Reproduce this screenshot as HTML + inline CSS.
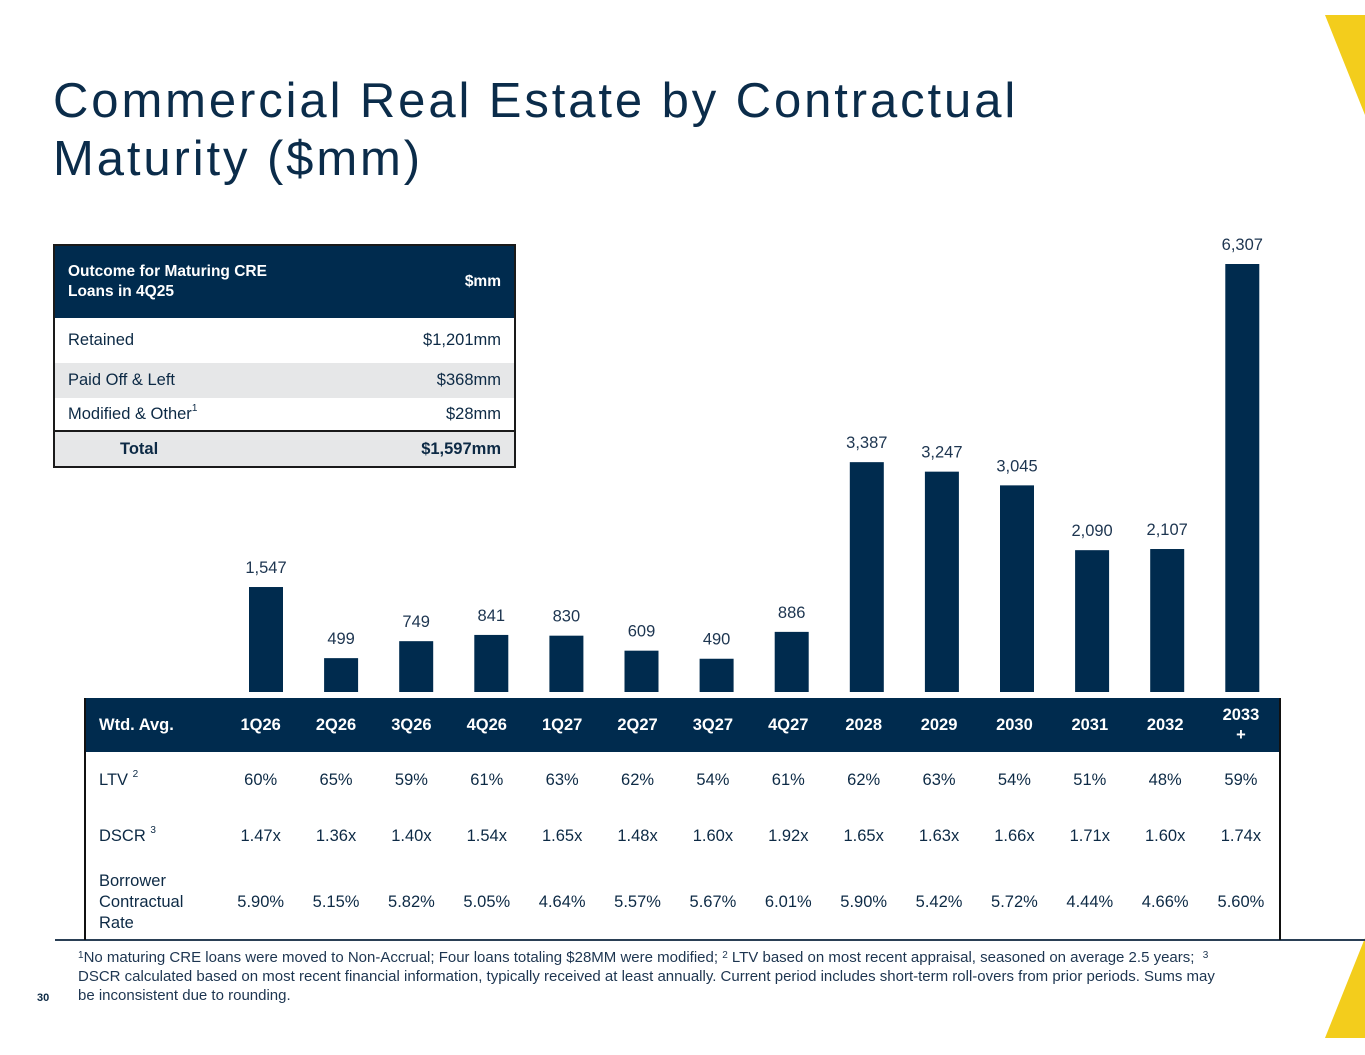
<!DOCTYPE html>
<html><head><meta charset="utf-8">
<style>
*{margin:0;padding:0;box-sizing:border-box}
body{width:1365px;height:1055px;background:#fff;position:relative;overflow:hidden;font-family:"Liberation Sans",sans-serif;color:#0d2a45}
.abs{position:absolute}
h1{position:absolute;left:53px;top:72px;font-size:49px;font-weight:normal;line-height:58px;color:#0b2c4a;letter-spacing:2.9px}
#ot{position:absolute;left:53px;top:244px;width:463px;border:2px solid #1a1a1a;border-collapse:collapse;font-size:16.5px}
#ot td{padding:0 13px}
#ot .hd td{background:#002b4e;color:#fff;font-weight:bold;height:73px;font-size:15.5px;line-height:20px}
.r{text-align:right}
#mt{position:absolute;left:84px;top:698px;width:1197px;border-collapse:collapse;font-size:16.5px;border-left:2px solid #111;border-right:2px solid #111}
#mt td{text-align:center;padding:0}
#mt td:first-child{text-align:left;padding-left:13px;width:138px}
#mt .hd td{background:#002b4e;color:#fff;font-weight:bold;height:54px;font-size:16.5px;line-height:20px}
sup{font-size:10px;vertical-align:top;position:relative;top:-2px}
#fn{position:absolute;left:78px;top:948px;width:1210px;font-size:15px;line-height:19px;color:#1d3550}
</style></head><body>
<div class="abs" style="left:0;top:0;width:1365px;height:1055px"></div>
<svg class="abs" style="left:0;top:0" width="1365" height="1055">
<polygon points="1325,15 1365,15 1365,115" fill="#f3cd1c"/>
<polygon points="1325,1038 1365,1038 1365,938" fill="#f3cd1c"/>
<line x1="55" y1="940" x2="1365" y2="940" stroke="#2a3f55" stroke-width="2"/>
</svg>
<h1>Commercial Real Estate by Contractual<br>Maturity ($mm)</h1>

<table id="ot">
<tr class="hd"><td>Outcome for Maturing CRE<br>Loans in 4Q25</td><td class="r">$mm</td></tr>
<tr style="height:45px"><td>Retained</td><td class="r">$1,201mm</td></tr>
<tr style="height:35px;background:#e6e7e8"><td>Paid Off &amp; Left</td><td class="r">$368mm</td></tr>
<tr style="height:33px"><td>Modified &amp; Other<sup>1</sup></td><td class="r">$28mm</td></tr>
<tr style="height:36px;background:#e6e7e8;font-weight:bold;border-top:2px solid #1a1a1a"><td style="padding-left:65px">Total</td><td class="r">$1,597mm</td></tr>
</table>

<svg id="chart" class="abs" style="left:0;top:0" width="1365" height="700"></svg>

<table id="mt">
<tr class="hd"><td>Wtd. Avg.</td><td>1Q26</td><td>2Q26</td><td>3Q26</td><td>4Q26</td><td>1Q27</td><td>2Q27</td><td>3Q27</td><td>4Q27</td><td>2028</td><td>2029</td><td>2030</td><td>2031</td><td>2032</td><td>2033<br>+</td></tr>
<tr style="height:57px"><td>LTV <sup>2</sup></td><td>60%</td><td>65%</td><td>59%</td><td>61%</td><td>63%</td><td>62%</td><td>54%</td><td>61%</td><td>62%</td><td>63%</td><td>54%</td><td>51%</td><td>48%</td><td>59%</td></tr>
<tr style="height:55px"><td>DSCR <sup>3</sup></td><td>1.47x</td><td>1.36x</td><td>1.40x</td><td>1.54x</td><td>1.65x</td><td>1.48x</td><td>1.60x</td><td>1.92x</td><td>1.65x</td><td>1.63x</td><td>1.66x</td><td>1.71x</td><td>1.60x</td><td>1.74x</td></tr>
<tr style="height:76px"><td style="line-height:21px">Borrower<br>Contractual<br>Rate</td><td>5.90%</td><td>5.15%</td><td>5.82%</td><td>5.05%</td><td>4.64%</td><td>5.57%</td><td>5.67%</td><td>6.01%</td><td>5.90%</td><td>5.42%</td><td>5.72%</td><td>4.44%</td><td>4.66%</td><td>5.60%</td></tr>
</table>

<div id="fn"><sup>1</sup>No maturing CRE loans were moved to Non-Accrual; Four loans totaling $28MM were modified; <sup>2</sup> LTV based on most recent appraisal, seasoned on average 2.5 years; &nbsp;<sup>3</sup><br>DSCR calculated based on most recent financial information, typically received at least annually. Current period includes short-term roll-overs from prior periods. Sums may<br>be inconsistent due to rounding.</div>
<div class="abs" style="left:37px;top:992px;font-size:11px;font-weight:bold">30</div>

<script>
const categories = ["1Q26","2Q26","3Q26","4Q26","1Q27","2Q27","3Q27","4Q27","2028","2029","2030","2031","2032","2033+"];
const values = [1547,499,749,841,830,609,490,886,3387,3247,3045,2090,2107,6307];
const valueLabels = ["1,547","499","749","841","830","609","490","886","3,387","3,247","3,045","2,090","2,107","6,307"];
const svg = document.getElementById('chart');
const NS = 'http://www.w3.org/2000/svg';
const baseY = 692, x0 = 266, step = 75.1, barW = 34, scale = 428/6307;
function xPos(i){ return x0 + i*step; }
function yPos(v){ return baseY - v*scale; }
values.forEach((v,i)=>{
  const r = document.createElementNS(NS,'rect');
  r.setAttribute('x', xPos(i)-barW/2);
  r.setAttribute('y', yPos(v));
  r.setAttribute('width', barW);
  r.setAttribute('height', baseY - yPos(v));
  r.setAttribute('fill', '#002b4e');
  
  
  svg.appendChild(r);
  const t = document.createElementNS(NS,'text');
  t.setAttribute('x', xPos(i));
  t.setAttribute('y', yPos(v) - 14);
  t.setAttribute('text-anchor', 'middle');
  t.setAttribute('font-size', '16.5');
  t.setAttribute('fill', '#1d3550');
  t.setAttribute('font-family', 'Liberation Sans, sans-serif');
  t.textContent = valueLabels[i];
  
  
  svg.appendChild(t);
});
</script>
</body></html>
